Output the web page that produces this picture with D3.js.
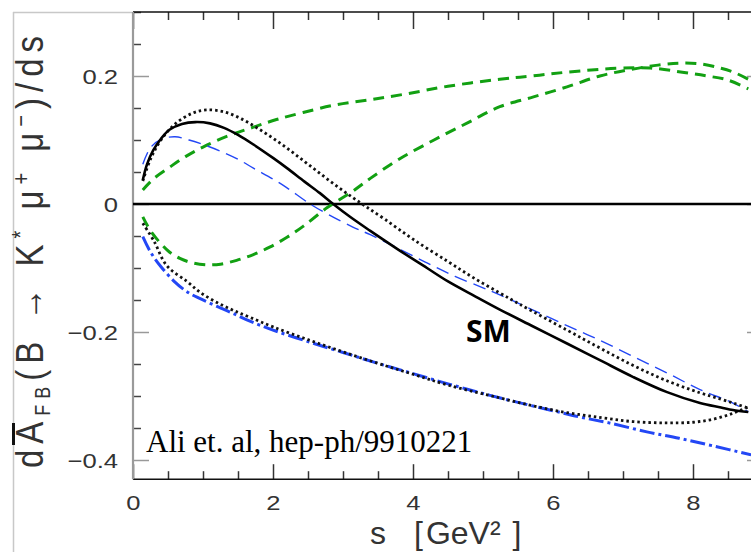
<!DOCTYPE html>
<html><head><meta charset="utf-8">
<script src="https://cdn.jsdelivr.net/npm/d3@7"></script>
<style>html,body{margin:0;padding:0;background:#fff;} svg{display:block}</style>
</head><body>
<svg id="c" width="751" height="552"></svg>
<script>
// ---- data ----
const smS = [0.14,0.2,0.29,0.4,0.52,0.7,0.89,1.1,1.3,1.5,1.72,2.0,2.2,2.45,2.67,2.86,3.1,3.39,3.8,4.2,4.5,4.9,5.24,5.71,6.2,6.67,7.14,7.63,8.1,8.4,8.57,8.79];
const smV = [0.0375,0.062,0.084,0.102,0.116,0.125,0.128,0.126,0.119,0.108,0.093,0.072,0.056,0.035,0.017,0.0,-0.02,-0.042,-0.072,-0.1,-0.121,-0.145,-0.165,-0.191,-0.218,-0.244,-0.27,-0.294,-0.311,-0.318,-0.322,-0.325];

const dotUpS = [0.14,0.25,0.4,0.6,0.85,1.05,1.3,1.55,1.8,2.05,2.3,2.55,2.8,3.05,3.3,3.6,4.0,4.5,4.86,5.24,5.53,6.2,6.67,7.14,7.6,8.1,8.4,8.6,8.79];
const dotUpV = [0.036,0.07,0.1,0.125,0.142,0.147,0.144,0.133,0.117,0.099,0.079,0.058,0.037,0.017,-0.002,-0.024,-0.055,-0.09,-0.115,-0.139,-0.157,-0.197,-0.225,-0.252,-0.275,-0.295,-0.305,-0.312,-0.319];

const blueUpS = [0.14,0.25,0.4,0.6,0.8,1.0,1.24,1.5,1.72,2.0,2.19,2.53,2.8,3.14,3.39,3.8,4.2,4.6,5.0,5.24,5.7,6.2,6.67,7.14,7.63,8.1,8.57,8.79];
const blueUpV = [0.062,0.088,0.101,0.105,0.1,0.093,0.083,0.07,0.056,0.039,0.026,0.0,-0.017,-0.036,-0.048,-0.07,-0.092,-0.113,-0.131,-0.142,-0.165,-0.19,-0.213,-0.238,-0.264,-0.29,-0.311,-0.325];

const greenAS = [0.14,0.3,0.53,0.75,1.0,1.35,1.72,2.05,2.43,2.9,3.39,3.9,4.5,5.24,5.7,6.2,6.9,7.39,7.9,8.2,8.49,8.79];
const greenAV = [0.022,0.04,0.058,0.074,0.089,0.106,0.12,0.132,0.143,0.155,0.163,0.172,0.184,0.195,0.2,0.206,0.212,0.2125,0.205,0.2,0.194,0.18];

const greenBS = [0.14,0.25,0.39,0.52,0.67,0.85,1.05,1.25,1.48,1.72,1.96,2.2,2.43,2.77,3.14,3.39,3.8,4.3,4.8,5.24,5.71,6.2,6.67,7.1,7.5,7.8,8.1,8.4,8.6,8.79];
const greenBV = [-0.02,-0.042,-0.061,-0.075,-0.085,-0.092,-0.095,-0.094,-0.088,-0.079,-0.067,-0.052,-0.035,-0.006,0.02,0.04,0.07,0.1,0.128,0.152,0.167,0.183,0.2,0.21,0.217,0.22,0.219,0.212,0.205,0.195];

const dotLowS = [0.14,0.3,0.48,0.77,0.96,1.2,1.43,1.67,2.0,2.5,3.0,3.5,4.0,4.5,5.24,5.7,6.2,6.7,7.14,7.6,8.0,8.3,8.57,8.79];
const dotLowV = [-0.03,-0.058,-0.096,-0.121,-0.138,-0.154,-0.166,-0.177,-0.192,-0.212,-0.231,-0.249,-0.266,-0.283,-0.303,-0.315,-0.326,-0.334,-0.34,-0.342,-0.341,-0.336,-0.327,-0.317];

const blueLowS = [0.14,0.25,0.4,0.6,0.77,0.96,1.2,1.43,1.67,2.0,2.5,3.0,3.5,4.0,4.5,5.1,5.5,6.0,6.39,6.8,7.34,7.8,8.29,8.83];
const blueLowV = [-0.051,-0.075,-0.098,-0.122,-0.137,-0.148,-0.16,-0.171,-0.183,-0.197,-0.215,-0.232,-0.249,-0.265,-0.281,-0.299,-0.31,-0.323,-0.333,-0.342,-0.356,-0.366,-0.378,-0.392];

const xTickValues = [0,2,4,6,8];
const xTickLabels = ["0","2","4","6","8"];
const yTickValues = [0.2,0,-0.2,-0.4];
const yTickLabels = ["0.2","0","\u22120.2","\u22120.4"];
const smLabel = "SM";
const citation = "Ali et. al, hep-ph/9910221";

// ---- drawing ----
const svg = d3.select("#c");
const x = d3.scaleLinear().domain([0, 9]).range([133, 763]);
const y = d3.scaleLinear().domain([-0.43, 0.3]).range([479.2, 12]);
const yTop = y(0.3), yBot = y(-0.43);

svg.append("rect").attr("width",751).attr("height",552).attr("fill","#fff");

// outer gray frame
svg.append("line").attr("x1",13.5).attr("x2",13.5).attr("y1",12).attr("y2",552).attr("stroke","#c8c8c8").attr("stroke-width",1.5);
svg.append("line").attr("x1",13).attr("x2",133).attr("y1",12.5).attr("y2",12.5).attr("stroke","#c8c8c8").attr("stroke-width",1.5);
svg.append("line").attr("x1",13.5).attr("x2",13.5).attr("y1",423).attr("y2",445).attr("stroke","#111").attr("stroke-width",3);

const tickColor = "#333";
function minorVals(step, lo, hi, majors){ return d3.range(lo, hi+1e-9, step).filter(v => !majors.some(m => Math.abs(m-v)<1e-9)); }
const xMinor = minorVals(0.5, 0, 9, [0,2,4,6,8]);
const yMinor = minorVals(0.05, -0.4, 0.3, [-0.4,-0.2,0,0.2]);

function styleAxis(g, color){ g.select(".domain").remove(); g.selectAll("line").attr("stroke", color).attr("stroke-width",1.5); g.selectAll("text").remove(); }

// bottom
svg.append("g").attr("transform",`translate(0,${yBot})`).call(d3.axisBottom(x).tickValues(xMinor).tickSize(-8).tickFormat("")).call(g=>styleAxis(g,tickColor));
svg.append("g").attr("transform",`translate(0,${yBot})`).call(d3.axisBottom(x).tickValues(xTickValues).tickSize(-15).tickFormat("")).call(g=>styleAxis(g,tickColor));
// top
svg.append("g").attr("transform",`translate(0,${yTop})`).call(d3.axisTop(x).tickValues(xMinor).tickSize(-8).tickFormat("")).call(g=>styleAxis(g,tickColor));
svg.append("g").attr("transform",`translate(0,${yTop})`).call(d3.axisTop(x).tickValues(xTickValues).tickSize(-17).tickFormat("")).call(g=>styleAxis(g,tickColor));
// left
svg.append("g").attr("transform",`translate(133,0)`).call(d3.axisLeft(y).tickValues(yMinor).tickSize(-8).tickFormat("")).call(g=>styleAxis(g,"#444"));
svg.append("g").attr("transform",`translate(133,0)`).call(d3.axisLeft(y).tickValues(yTickValues).tickSize(-16).tickFormat("")).call(g=>styleAxis(g,"#999"));
// right (mostly off canvas)
svg.append("g").attr("transform",`translate(${x(9)},0)`).call(d3.axisRight(y).tickValues(yTickValues).tickSize(-16).tickFormat("")).call(g=>styleAxis(g,"#999"));

// axis lines
svg.append("line").attr("x1",133).attr("x2",751).attr("y1",yTop).attr("y2",yTop).attr("stroke","#111").attr("stroke-width",1.6);
svg.append("line").attr("x1",133).attr("x2",751).attr("y1",yBot).attr("y2",yBot).attr("stroke","#111").attr("stroke-width",1.6);
svg.append("line").attr("x1",133).attr("x2",133).attr("y1",yTop).attr("y2",yBot).attr("stroke","#9a9a9a").attr("stroke-width",2.2);

// tick labels
const lblFont = "'Liberation Sans', Arial, sans-serif";
const sx = 1.22;
const xl = svg.append("g").attr("transform",`translate(0,${yBot})`).call(d3.axisBottom(x).tickValues(xTickValues).tickSize(0).tickPadding(0).tickFormat((d,i)=>xTickLabels[i]));
xl.select(".domain").remove(); xl.selectAll("line").remove();
xl.selectAll("text").attr("y",null).attr("dy",null).attr("transform",`translate(0,31) scale(${sx},1)`)
  .attr("font-family",lblFont).attr("font-size",21).attr("fill","#333").attr("text-anchor","middle");

const yl = svg.append("g").attr("transform",`translate(133,0)`).call(d3.axisLeft(y).tickValues(yTickValues).tickSize(0).tickPadding(0).tickFormat((d,i)=>yTickLabels[i]));
yl.select(".domain").remove(); yl.selectAll("line").remove();
yl.selectAll("text").attr("x",0).attr("dy","0.36em").attr("transform",`translate(-15,0) scale(${sx},1)`)
  .attr("font-family",lblFont).attr("font-size",21).attr("fill","#333").attr("text-anchor","end");

// plot clip
svg.append("clipPath").attr("id","clip").append("rect").attr("x",133).attr("y",yTop).attr("width",618).attr("height",yBot-yTop);
const plot = svg.append("g").attr("clip-path","url(#clip)");

plot.append("line").attr("x1",133).attr("x2",751).attr("y1",y(0)).attr("y2",y(0)).attr("stroke","#000").attr("stroke-width",2.4);

const line = d3.line().x(d=>x(d[0])).y(d=>y(d[1])).curve(d3.curveCatmullRom.alpha(0.5));
const zip = (a,b) => a.map((v,i)=>[v,b[i]]);
const GREEN = "#12a012", BLUE = "#2347f5";
const series = [
  {s:greenAS, v:greenAV, color:GREEN, w:3, dash:"11,7"},
  {s:greenBS, v:greenBV, color:GREEN, w:3, dash:"11,7"},
  {s:blueUpS, v:blueUpV, color:BLUE, w:1.4, dash:"13,7"},
  {s:blueLowS, v:blueLowV, color:BLUE, w:3, dash:"15,4,3,4"},
  {s:dotLowS, v:dotLowV, color:"#111", w:2.8, dash:"2.5,3"},
  {s:dotUpS, v:dotUpV, color:"#111", w:2.8, dash:"2.5,3"},
  {s:smS, v:smV, color:"#000", w:2.6, dash:null}
];
series.forEach(sr => {
  plot.append("path").attr("d", line(zip(sr.s, sr.v))).attr("fill","none")
    .attr("stroke", sr.color).attr("stroke-width", sr.w)
    .attr("stroke-dasharray", sr.dash).attr("stroke-linejoin","round");
});

// annotations
svg.append("text").attr("x",466).attr("y",342).text(smLabel)
  .attr("font-family","'Open Sans', 'Liberation Sans', sans-serif").attr("font-weight",700).attr("font-size",30).attr("fill","#000");
svg.append("text").attr("x",146).attr("y",452).text(citation)
  .attr("font-family","'Liberation Serif', 'Times New Roman', serif").attr("font-size",31).attr("fill","#000");

// x axis title
const xt = svg.append("text").attr("font-family",lblFont).attr("font-size",32).attr("fill","#333").attr("x",370).attr("y",544);
xt.append("tspan").text("s");
xt.append("tspan").attr("dx",28).text("[");
xt.append("tspan").attr("dx",3).text("GeV\u00B2");
xt.append("tspan").attr("dx",12).text("]");

// y axis title
const yg = svg.append("g").attr("transform","translate(43,249) rotate(-90) scale(1,1.2)");
const yt = yg.append("text").attr("font-family",lblFont).attr("font-size",33).attr("fill","#333").attr("text-anchor","middle").attr("x",0).attr("y",0);
yt.append("tspan").text("dA");
yt.append("tspan").attr("font-size",18).attr("dy",6).text("FB");
yt.append("tspan").attr("dy",-6).text("(B \u2192 K");
yt.append("tspan").attr("font-size",20).attr("dy",-12).text("*");
yt.append("tspan").attr("dy",12).text(" \u03BC");
yt.append("tspan").attr("font-size",20).attr("dy",-12).text("+");
yt.append("tspan").attr("dy",12).text(" \u03BC");
yt.append("tspan").attr("font-size",20).attr("dy",-12).text("\u2212");
yt.append("tspan").attr("dy",12).text(")/ds");
const L = yt.node().getComputedTextLength();
const nChars = yt.text().length;
if (L < 438) yt.attr("letter-spacing", ((438 - L)/nChars).toFixed(2));
</script>
</body></html>
